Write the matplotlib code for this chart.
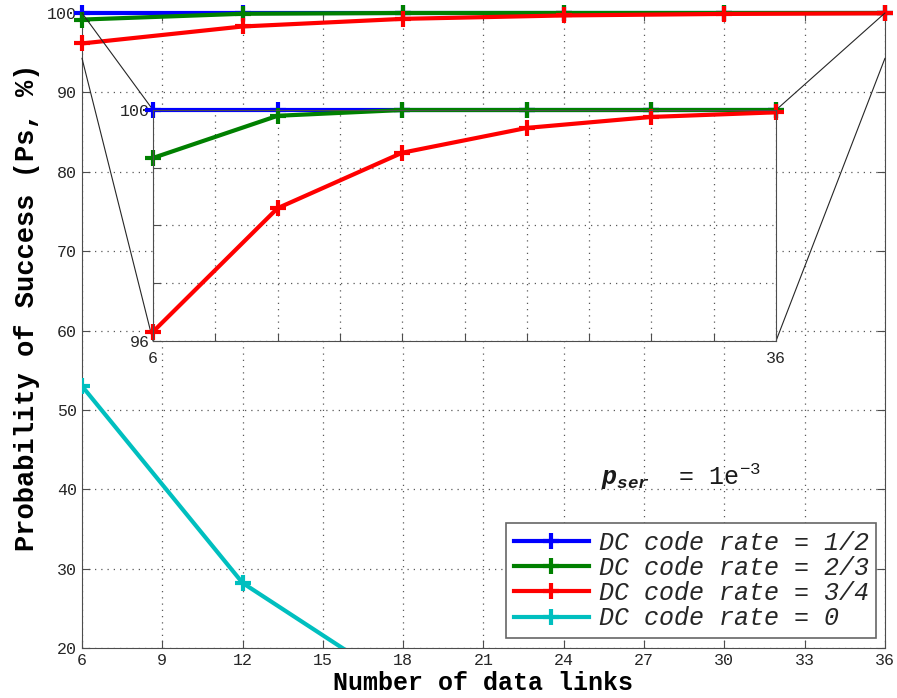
import matplotlib
matplotlib.use("Agg")
import matplotlib.pyplot as plt
from matplotlib.patches import ConnectionPatch

# === 1. DATA ===
links = [6, 12, 18, 24, 30, 36]
ps_half = [100.0, 100.0, 100.0, 100.0, 100.0, 100.0]
ps_two_thirds = [99.17, 99.9, 100.0, 100.0, 100.0, 100.0]
ps_three_quarters = [96.16, 98.3, 99.26, 99.69, 99.88, 99.96]
ps_zero = [53.0, 28.2, 15.0, 8.0, 4.0, 2.0]

labels = ["DC code rate = 1/2", "DC code rate = 2/3",
          "DC code rate = 3/4", "DC code rate = 0"]
colors = ["#0000ff", "#008000", "#ff0000", "#00bfbf"]

main_xticks = list(range(6, 37, 3))
main_yticks = list(range(20, 101, 10))
inset_xticks = list(range(6, 37, 3))
inset_yticks = [96, 97, 98, 99, 100]
zoom_ylow = 94.3

# === 2. STYLE ===
mono = "Liberation Mono"
plt.rcParams["font.family"] = [mono, "DejaVu Sans Mono"]
plt.rcParams["mathtext.fontset"] = "custom"
plt.rcParams["mathtext.rm"] = mono
plt.rcParams["mathtext.it"] = mono + ":italic"
plt.rcParams["mathtext.bf"] = mono + ":bold"
plt.rcParams["mathtext.bfit"] = mono + ":italic:bold"

fig = plt.figure(figsize=(8.97, 6.98), dpi=100)
ax = fig.add_axes([0.0914, 0.0716, 0.8952, 0.9098])

series = [ps_half, ps_two_thirds, ps_three_quarters, ps_zero]
for i, (vals, lab, col) in enumerate(zip(series, labels, colors)):
    ax.plot(links, vals, color=col, lw=3, marker="+", ms=11, mew=3, label=lab,
            clip_on=(i == 3), zorder=3)

ax.set_xlim(6, 36)
ax.set_ylim(20, 100)
ax.set_xticks(main_xticks)
ax.set_yticks(main_yticks)
ax.grid(True, linestyle=(0, (1, 4)), color="0.35", lw=0.9)
ax.tick_params(direction="in", top=True, right=True, labelsize=12,
               length=6, color="0.3", labelcolor="0.15")
for sp in ax.spines.values():
    sp.set_color("0.3")
ax.set_xlabel("Number of data links", fontsize=18, fontweight="bold", labelpad=2)
ax.set_ylabel("Probability of Success (Ps, %)", fontsize=19.5, fontweight="bold")
ax.yaxis.set_label_coords(-0.052, 0.537)

ax.text(25.4, 40.5, r"$\mathbfit{p}_{\mathbfit{ser}}$  = 1e$^{-3}$",
        fontsize=18, ha="left", va="baseline", color="0.1")

leg = ax.legend(loc="lower right", bbox_to_anchor=(0.989, 0.016),
                prop={"family": mono, "style": "italic", "size": 18},
                fancybox=False, edgecolor="0.4", framealpha=1,
                handlelength=3, labelspacing=0.05, borderpad=0.3,
                handletextpad=0.4, borderaxespad=0)
leg.get_frame().set_linewidth(1.2)
for t in leg.get_texts():
    t.set_color("0.15")

# === 3. INSET ===
axins = fig.add_axes([0.1706, 0.5115, 0.6945, 0.3309])
axins.set_zorder(5)
for vals, col in zip(series[:3], colors[:3]):
    axins.plot(links, vals, color=col, lw=3, marker="+", ms=11, mew=3,
               clip_on=False)
axins.set_xlim(6, 36)
axins.set_ylim(96, 100)
axins.set_xticks(inset_xticks)
axins.set_xticklabels([str(t) if t in (6, 36) else "" for t in inset_xticks])
axins.set_yticks(inset_yticks)
axins.set_yticklabels([str(t) if t in (96, 100) else "" for t in inset_yticks])
axins.grid(True, linestyle=(0, (1, 4)), color="0.35", lw=0.9)
axins.tick_params(direction="in", labelsize=12, length=6, color="0.3", pad=2,
                  labelcolor="0.15")
axins.tick_params(axis="x", pad=7)
for sp in axins.spines.values():
    sp.set_color("0.3")

corners = [((6, 100), (6, 100)), ((6, zoom_ylow), (6, 96)),
           ((36, 100), (36, 100)), ((36, zoom_ylow), (36, 96))]
for a, b in corners:
    con = ConnectionPatch(xyA=a, coordsA=ax.transData, xyB=b,
                          coordsB=axins.transData, color="0.15", lw=0.8)
    fig.add_artist(con)

fig.savefig("out.png", dpi=100)
